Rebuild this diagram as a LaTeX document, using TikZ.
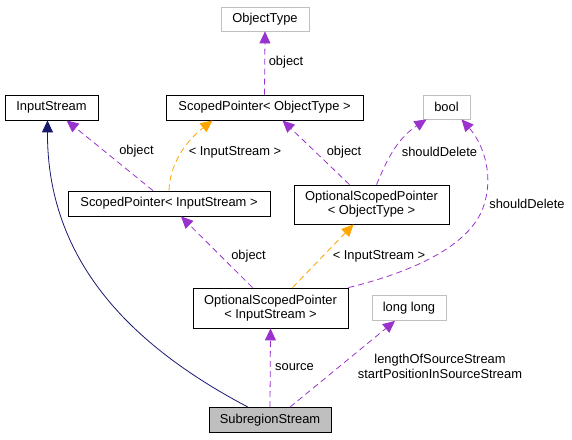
\documentclass[tikz,border=0pt]{standalone}
\usepackage{fontspec}
\setmainfont{Liberation Sans}
\usetikzlibrary{arrows.meta}
\definecolor{black}{RGB}{0,0,0}
\definecolor{light_gray}{RGB}{191,191,191}
\definecolor{dark_orchid}{RGB}{154,50,205}
\definecolor{dark_orange}{RGB}{255,165,0}
\definecolor{midnight_blue}{RGB}{25,25,112}

\begin{document}
\begin{tikzpicture}[x=1pt,y=-1pt,font=\fontsize{12.9}{14}\selectfont,
	cls/.style={draw=black,line width=0.8pt,rectangle,inner sep=0pt,align=center},
	ext/.style={draw=light_gray,line width=0.8pt,rectangle,inner sep=0pt},
	lbl/.style={inner sep=0pt,align=center},
	use/.style={dark_orchid,line width=0.8pt,dash pattern=on 6pt off 4pt,-{Triangle[length=12pt,width=11pt]}},
	tmpl/.style={dark_orange,line width=0.8pt,dash pattern=on 6pt off 4pt,-{Triangle[length=12pt,width=11pt]}},
	inh/.style={midnight_blue,line width=0.8pt,-{Triangle[length=12pt,width=11pt]}}]
	\useasboundingbox (0,0) rectangle (572,439);
	\node[ext,minimum width=88pt,minimum height=24pt] (ot) at (265,19) {ObjectType};
	\node[cls,minimum width=93pt,minimum height=25pt] (is) at (51.5,107.5) {InputStream};
	\node[cls,minimum width=197pt,minimum height=25pt] (spo) at (264.5,107.5) {ScopedPointer{<} ObjectType {>}};
	\node[ext,minimum width=47pt,minimum height=24pt] (bool) at (446.5,107) {bool};
	\node[cls,minimum width=202pt,minimum height=25pt] (spi) at (169,203.5) {ScopedPointer{<} InputStream {>}};
	\node[cls,minimum width=155pt,minimum height=39pt] (ospo) at (371.5,204.5) {OptionalScopedPointer\\{<} ObjectType {>}};
	\node[cls,minimum width=155pt,minimum height=40pt] (ospi) at (270.5,308) {OptionalScopedPointer\\{<} InputStream {>}};
	\node[ext,minimum width=74pt,minimum height=25pt] (ll) at (409,308) {long long};
	\node[cls,fill=light_gray,minimum width=122pt,minimum height=25pt] (srs) at (270,420) {SubregionStream};

	\draw[inh] ([xshift=-22pt]srs.north) .. controls (130,345) and (47,260) .. ([xshift=-4pt]is.south);
	\draw[use] ([xshift=-16pt]spi.north) -- ([xshift=15pt]is.south);
	\draw[tmpl] (spi.north) .. controls (170,160) and (190,138) .. ([xshift=-52pt]spo.south);
	\draw[use] (spo.north) -- (ot.south);
	\draw[use] ([xshift=-22pt]ospo.north) -- ([xshift=18pt]spo.south);
	\draw[use] ([xshift=5pt]ospo.north) .. controls (385,165) and (395,140) .. ([xshift=-20pt]bool.south);
	\draw[use] (ospi.north east) .. controls (400,275) and (470,250) .. (484,205) .. controls (495,170) and (480,140) .. ([xshift=15pt]bool.south);
	\draw[tmpl] ([xshift=22pt]ospi.north) -- ([xshift=-18pt]ospo.south);
	\draw[use] ([xshift=-18pt]ospi.north) -- ([xshift=12pt]spi.south);
	\draw[use] (srs.north) -- (ospi.south);
	\draw[use] ([xshift=20pt]srs.north) -- ([xshift=-14pt]ll.south);

	\node[lbl] (l1) at (136.5,151) {object};
	\node[lbl] (l2) at (235,152) {{<} InputStream {>}};
	\node[lbl] (l3) at (286,62) {object};
	\node[lbl] (l4) at (344,152) {object};
	\node[lbl] (l5) at (439.5,152) {shouldDelete};
	\node[lbl] (l6) at (527,204) {shouldDelete};
	\node[lbl] (l7) at (379,256) {{<} InputStream {>}};
	\node[lbl] (l8) at (248.5,256) {object};
	\node[lbl] (l9) at (294.5,367) {source};
	\node[lbl,font=\fontsize{12.9}{15}\selectfont] (l10) at (440,366.5) {lengthOfSourceStream\\startPositionInSourceStream};
\end{tikzpicture}
\end{document}
